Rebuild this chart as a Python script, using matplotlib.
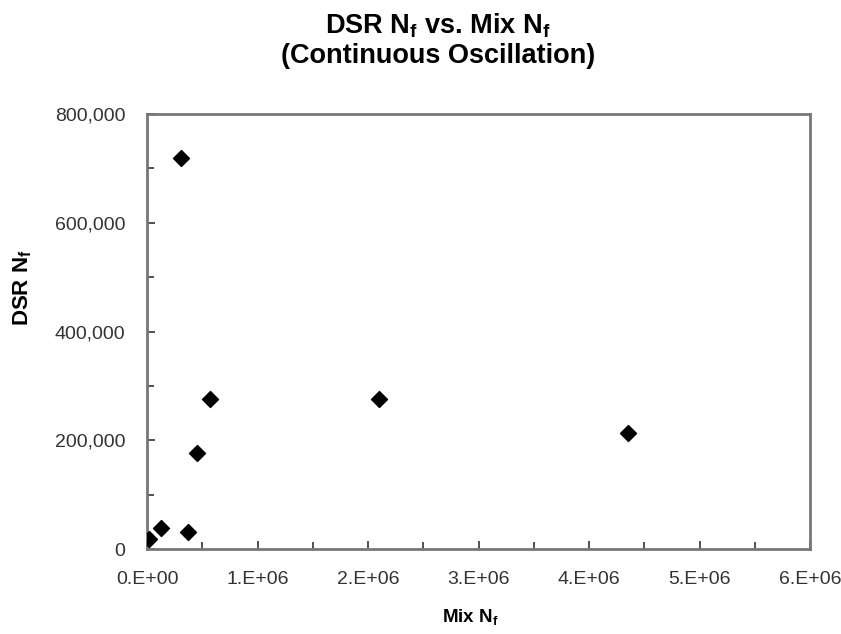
import matplotlib
matplotlib.use("Agg")
import matplotlib.pyplot as plt
from matplotlib.ticker import FuncFormatter, MultipleLocator

plt.rcParams["font.family"] = ["Liberation Sans", "DejaVu Sans"]
plt.rcParams["mathtext.fontset"] = "custom"
plt.rcParams["mathtext.rm"] = "Liberation Sans"
plt.rcParams["mathtext.bf"] = "Liberation Sans:bold"

# Data
mix_nf = [20000, 124000, 368000, 452000, 570000, 2100000, 4350000, 308000]
dsr_nf = [18400, 38000, 31300, 176500, 275300, 275300, 212800, 719700]

x_ticks = [0, 1e6, 2e6, 3e6, 4e6, 5e6, 6e6]
y_ticks = [0, 200000, 400000, 600000, 800000]


def sci_label(v, pos):
    if v == 0:
        return "0.E+00"
    return f"{int(round(v / 1e6))}.E+06"


fig = plt.figure(figsize=(8.41, 6.34), dpi=100)
ax = fig.add_axes([0.1748, 0.134, 0.7884, 0.686])

ax.scatter(mix_nf, dsr_nf, marker="D", s=66, color="black", zorder=3)

ax.set_xlim(0, 6e6)
ax.set_ylim(0, 800000)
ax.set_xticks(x_ticks)
ax.set_yticks(y_ticks)
ax.xaxis.set_minor_locator(MultipleLocator(5e5))
ax.yaxis.set_minor_locator(MultipleLocator(100000))
ax.xaxis.set_major_formatter(FuncFormatter(sci_label))
ax.yaxis.set_major_formatter(FuncFormatter(lambda v, p: f"{int(v):,}"))

for s in ax.spines.values():
    s.set_color("#777777")
    s.set_linewidth(2)

ax.tick_params(which="both", direction="in", color="#333333", width=1.2,
               labelsize=14, labelcolor="#333333")
ax.tick_params(axis="y", which="both", pad=15.5)
ax.tick_params(axis="x", which="both", pad=15.5)
ax.tick_params(which="major", length=6)
ax.tick_params(which="minor", length=5)

ax.set_xlabel(r"Mix N$_\mathbf{f}$", fontsize=13.5, fontweight="bold")
ax.set_ylabel(r"DSR N$_\mathbf{f}$", fontsize=16, fontweight="bold")
ax.xaxis.set_label_coords(0.487, -0.136)
ax.yaxis.set_label_coords(-0.17, 0.60)

fig.text(0.521, 1 - 33 / 634, r"DSR N$_\mathbf{f}$ vs. Mix N$_\mathbf{f}$",
         fontsize=19.5, fontweight="bold", ha="center", va="baseline")
fig.text(0.521, 1 - 63 / 634, "(Continuous Oscillation)",
         fontsize=19.5, fontweight="bold", ha="center", va="baseline")

fig.savefig("out.png", dpi=100)
